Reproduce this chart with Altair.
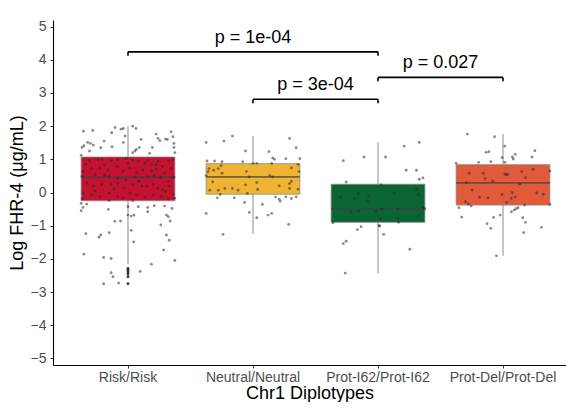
import altair as alt
import pandas as pd

categories = ["Risk/Risk", "Neutral/Neutral", "Prot-I62/Prot-I62", "Prot-Del/Prot-Del"]
box_colors = ["#C41230", "#EFB434", "#0A6535", "#E15A3A"]

# box statistics
q1 = [-0.25, -0.05, -0.90, -0.38]
median = [0.46, 0.47, -0.49, 0.29]
q3 = [1.07, 0.87, 0.25, 0.84]
whisk_lo = [-2.16, -1.24, -2.44, -1.91]
whisk_hi = [2.00, 1.70, 1.51, 1.76]

# outliers drawn by the boxplot (Risk/Risk)
risk_outliers = [-2.29, -2.34, -2.40, -2.46, -2.54, -2.75]

# jittered observations: horizontal jitter (fraction of box width) and value
risk_jit = [-0.475, -0.376, -0.138, -0.074, -0.05, 0.05, 0.085, -0.174, -0.032, -0.255, -0.43, -0.40, -0.37, -0.47, -0.49,
            -0.29, -0.41, -0.17, -0.05, 0.14, 0.12, 0.09, 0.075, 0.05, 0.30, 0.32, 0.34, 0.40, 0.42, 0.46, 0.48, 0.49, 0.49,
            0.50, 0.23, 0.26, -0.50,
            -0.41, -0.32, -0.28, -0.18, -0.11, -0.02, 0.05, 0.11, 0.18, 0.21, 0.25, 0.32, 0.37, 0.43, 0.48,
            -0.48, -0.39, -0.30, -0.21, -0.12, -0.05, 0.02, 0.09, 0.16, 0.25, 0.30, 0.39, 0.46,
            -0.49, -0.35, -0.25, -0.20, -0.11, -0.02, 0.07, 0.12, 0.21, 0.28, 0.35, 0.43, 0.49,
            -0.44, -0.37, -0.28, -0.18, -0.11, -0.04, 0.05, 0.11, 0.20, 0.27, 0.32, 0.37, 0.44,
            -0.48, -0.39, -0.30, -0.20, -0.11, -0.05, 0.02, 0.09, 0.18, 0.27, 0.35, 0.43, 0.48, 0.50, -0.49,
            -0.25, 0.00, 0.30, -0.45, 0.15, -0.15, 0.40, -0.35, 0.05, -0.20,
            -0.50, -0.48, -0.44, -0.50, -0.21, 0.00, 0.11, 0.21, 0.28, 0.21, 0.39, 0.41, 0.43, 0.47, 0.45, 0.35, -0.14,
            -0.08, 0.00, 0.035, 0.064, -0.45, -0.31, -0.29, -0.20, 0.035, 0.06, 0.41, 0.44, 0.38, -0.47, -0.26, -0.18,
            0.25, 0.50, 0.13, -0.18, -0.16, -0.26, -0.10]
risk_val = [1.85, 1.87, 1.96, 1.91, 1.93, 2.00, 1.93, 1.80, 1.70, 1.55, 1.51, 1.48, 1.43, 1.41, 1.36,
            1.35, 1.25, 1.38, 1.51, 1.60, 1.36, 1.30, 1.25, 1.20, 1.76, 1.63, 1.56, 1.61, 1.60, 1.83, 1.68, 1.48, 1.36,
            1.20, 1.18, 1.36, 1.12,
            0.96, 0.99, 0.99, 0.96, 0.99, 1.03, 0.99, 0.94, 0.89, 0.96, 0.84, 0.94, 0.79, 0.96, 0.99,
            0.64, 0.73, 0.73, 0.68, 0.79, 0.64, 0.73, 0.59, 0.68, 0.64, 0.71, 0.59, 0.73,
            0.49, 0.54, 0.52, 0.49, 0.43, 0.38, 0.46, 0.35, 0.49, 0.52, 0.46, 0.33, 0.46,
            0.28, 0.19, 0.24, 0.24, 0.28, 0.13, 0.24, 0.33, 0.19, 0.24, 0.13, 0.08, 0.19,
            -0.02, -0.07, -0.12, -0.02, -0.12, -0.17, -0.02, -0.07, -0.14, -0.07, -0.12, -0.19, -0.05, -0.17, -0.19,
            0.83, 0.88, 0.83, 0.85, 0.20, 0.10, 0.03, 0.05, -0.24, -0.24,
            -0.33, -0.45, -0.35, -0.55, -0.51, -0.43, -0.43, -0.45, -0.40, -0.58, -0.41, -0.68, -0.73, -0.48, -0.86, -0.98, -0.87,
            -0.86, -0.68, -0.71, -0.68, -1.24, -1.35, -1.28, -1.21, -1.14, -1.49, -1.28, -1.44, -1.73, -1.86, -1.96, -1.99,
            -2.16, -2.05, -2.38, -2.42, -2.54, -2.75, -2.73]

neutral_jit = [-0.50, -0.31, -0.22, -0.08, 0.17, 0.39, 0.46, 0.50, 0.35, 0.21, 0.23, -0.49, -0.41, -0.33, -0.11, 0.00,
               0.04, 0.20, 0.48, -0.47, -0.42, -0.37, -0.34, -0.33, -0.48, -0.50, -0.07, -0.04, 0.18, 0.21, 0.41, 0.49,
               -0.43, -0.08, 0.04, 0.28, 0.39, 0.41, -0.46, -0.37, -0.30, -0.22, -0.16, -0.06, 0.05, 0.39, 0.48,
               -0.35, -0.38, -0.20, -0.09, 0.10, 0.24, 0.28, 0.29, 0.35, 0.41, 0.46, -0.04, 0.04, 0.16, 0.20, -0.50,
               0.38, -0.32]
neutral_val = [1.51, 1.55, 1.70, 1.25, 1.23, 1.63, 1.35, 1.02, 1.02, 1.04, 1.00, 0.95, 0.95, 0.93, 0.93, 0.88,
               0.88, 0.88, 0.85, 0.72, 0.67, 0.72, 0.81, 0.58, 0.63, 0.51, 0.63, 0.47, 0.51, 0.47, 0.74, 0.63,
               0.32, 0.23, 0.30, 0.20, 0.27, 0.34, 0.07, 0.07, 0.12, 0.12, 0.07, -0.03, 0.09, 0.12, 0.10,
               -0.06, -0.16, -0.16, -0.30, -0.36, -0.13, -0.20, -0.26, -0.13, -0.18, -0.13, -0.60, -0.76, -0.68, -0.63, -0.63,
               -0.96, -1.26]

i62_jit = [-0.37, -0.15, 0.08, 0.28, 0.44, 0.30, 0.41, 0.44, 0.48, -0.34, 0.035, -0.40, -0.25, -0.21, -0.10, -0.11,
           0.17, 0.41, 0.43, -0.29, -0.21, -0.02, 0.04, 0.21, 0.48, 0.50, 0.43, 0.03, 0.21, 0.22, -0.48, -0.18,
           -0.22, 0.01, 0.02, 0.06, -0.34, -0.37, 0.34, -0.35]
i62_val = [0.96, 1.07, 1.07, 1.40, 1.51, 0.67, 0.67, 0.40, 0.44, 0.32, 0.23, -0.15, -0.19, -0.03, -0.10, -0.26,
           -0.03, 0.10, -0.06, -0.58, -0.56, -0.56, -0.50, -0.50, -0.46, -0.49, -0.70, -0.80, -0.78, -0.90, -0.91, -1.03,
           -1.12, -1.00, -1.01, -1.26, -1.47, -1.54, -1.71, -2.43]

del_jit = [-0.38, -0.09, 0.02, -0.18, -0.15, -0.01, 0.10, 0.11, 0.13, 0.31, 0.34, -0.26, -0.13, 0.02, -0.50, 0.50,
           -0.36, -0.21, -0.19, 0.02, 0.035, 0.05, 0.20, 0.24, 0.32, -0.39, -0.11, 0.18, -0.33, -0.25, -0.16, -0.01,
           0.10, 0.09, 0.13, 0.36, 0.43, -0.40, -0.37, 0.04, 0.23, 0.50, -0.47, -0.34, 0.12, 0.09, 0.14, 0.16,
           -0.03, -0.10, -0.44, 0.21, -0.17, 0.24, -0.13, 0.41, 0.22, -0.07]
del_val = [1.76, 1.68, 1.40, 1.21, 1.23, 1.05, 1.07, 1.01, 1.15, 1.07, 1.26, 0.91, 0.93, 0.91, 0.88, 0.65,
           0.58, 0.58, 0.42, 0.56, 0.53, 0.55, 0.63, 0.45, 0.70, 0.30, 0.34, 0.25, 0.07, -0.14, -0.16, -0.06,
           0.00, -0.18, -0.13, -0.01, -0.05, -0.28, -0.35, -0.30, -0.38, -0.36, -0.46, -0.41, -0.53, -0.58, -0.49, -0.46,
           -0.68, -0.75, -0.74, -0.76, -0.94, -0.90, -1.08, -1.05, -1.21, -1.91]

# significance brackets: left group index, right group index, bar height, label
br_left = [0, 2, 1]
br_right = [2, 3, 2]
br_y = [4.24, 3.47, 2.81]
br_label = ["p = 1e-04", "p = 0.027", "p = 3e-04"]
br_tick = 0.12

FONT = "Liberation Sans"
W, H = 513, 345
BW = 93.75

stats = pd.DataFrame({"group": categories, "q1": q1, "median": median, "q3": q3,
                      "lo": whisk_lo, "hi": whisk_hi})

groups, jits, vals = [], [], []
for g, jl, vl in [(categories[0], risk_jit, risk_val), (categories[1], neutral_jit, neutral_val),
                  (categories[2], i62_jit, i62_val), (categories[3], del_jit, del_val)]:
    groups += [g] * len(vl)
    jits += jl
    vals += vl
points = pd.DataFrame({"group": groups, "jit": jits, "val": vals})
outl = pd.DataFrame({"group": [categories[0]] * len(risk_outliers), "val": risk_outliers})

seg_rows = []
for l, r, y in zip(br_left, br_right, br_y):
    seg_rows.append({"x": l, "x2": r, "y": y, "y2": y})
    seg_rows.append({"x": l, "x2": l, "y": y, "y2": y - br_tick})
    seg_rows.append({"x": r, "x2": r, "y": y, "y2": y - br_tick})
segs = pd.DataFrame(seg_rows)
labels = pd.DataFrame({"xm": [(l + r) / 2 for l, r in zip(br_left, br_right)], "y": br_y, "label": br_label})

yscale = alt.Scale(domain=[-5.2, 5.2], nice=False, zero=False)
xscale = alt.Scale(domain=categories, paddingInner=0.25, paddingOuter=0.177, align=0.6356, round=False)

xenc = alt.X("group:N", scale=xscale, sort=categories,
             axis=alt.Axis(title="Chr1 Diplotypes", labelAngle=0))
yaxis = alt.Axis(title="Log FHR-4 (μg/mL)", values=list(range(-5, 6)), format="d")

whiskers = alt.Chart(stats).mark_rule(color="#8a8a8a", strokeWidth=1).encode(
    x=xenc, y=alt.Y("lo:Q", scale=yscale, axis=yaxis), y2="hi:Q")

boxes = alt.Chart(stats).mark_bar(stroke="#8a8a8a", strokeWidth=0.8).encode(
    x=xenc, y=alt.Y("q1:Q", scale=yscale, axis=yaxis), y2="q3:Q",
    color=alt.Color("group:N", scale=alt.Scale(domain=categories, range=box_colors), legend=None))

med = alt.Chart(stats).mark_tick(color="#404040", thickness=1.8, size=BW).encode(
    x=xenc, y=alt.Y("median:Q", scale=yscale, axis=yaxis))

outliers = alt.Chart(outl).mark_circle(color="#222222", opacity=0.9, size=8).encode(
    x=xenc, y=alt.Y("val:Q", scale=yscale, axis=yaxis))

pts = alt.Chart(points).mark_circle(color="#2a2a2a", opacity=0.55, size=8).encode(
    x=xenc,
    xOffset=alt.XOffset("jit:Q", scale=alt.Scale(domain=[-0.5, 0.5], nice=False, zero=False)),
    y=alt.Y("val:Q", scale=yscale, axis=yaxis))

bx = alt.Scale(domain=[-0.6, 3.504], nice=False, zero=False)
brackets = alt.Chart(segs).mark_rule(color="#000000", strokeWidth=1.6).encode(
    x=alt.X("x:Q", scale=bx, axis=None), x2="x2:Q",
    y=alt.Y("y:Q", scale=yscale, axis=yaxis), y2="y2:Q")
btext = alt.Chart(labels).mark_text(font=FONT, fontSize=18, color="#000000", baseline="alphabetic", dy=-9).encode(
    x=alt.X("xm:Q", scale=bx, axis=None), y=alt.Y("y:Q", scale=yscale, axis=yaxis), text="label:N")

base = alt.layer(whiskers, boxes, med, pts, outliers).resolve_scale(xOffset="independent")
chart = alt.layer(base, brackets, btext).resolve_scale(x="independent").properties(
    width=W, height=H, autosize="none",
    padding={"left": 45, "top": 12, "right": 0, "bottom": 37},
).configure_view(stroke=None).configure_axis(
    grid=False, domainColor="#000000", domainWidth=1.1, tickColor="#333333", tickSize=3,
    labelColor="#4d4d4d", labelFont=FONT, labelFontSize=14, titleFont=FONT, titleFontSize=18,
    titleFontWeight="normal", titleColor="#000000",
).configure_axisX(labelPadding=2, titlePadding=0).configure_axisY(labelPadding=4, titlePadding=4)

chart.save("out.html", embed_options={"renderer": "svg", "actions": False})
